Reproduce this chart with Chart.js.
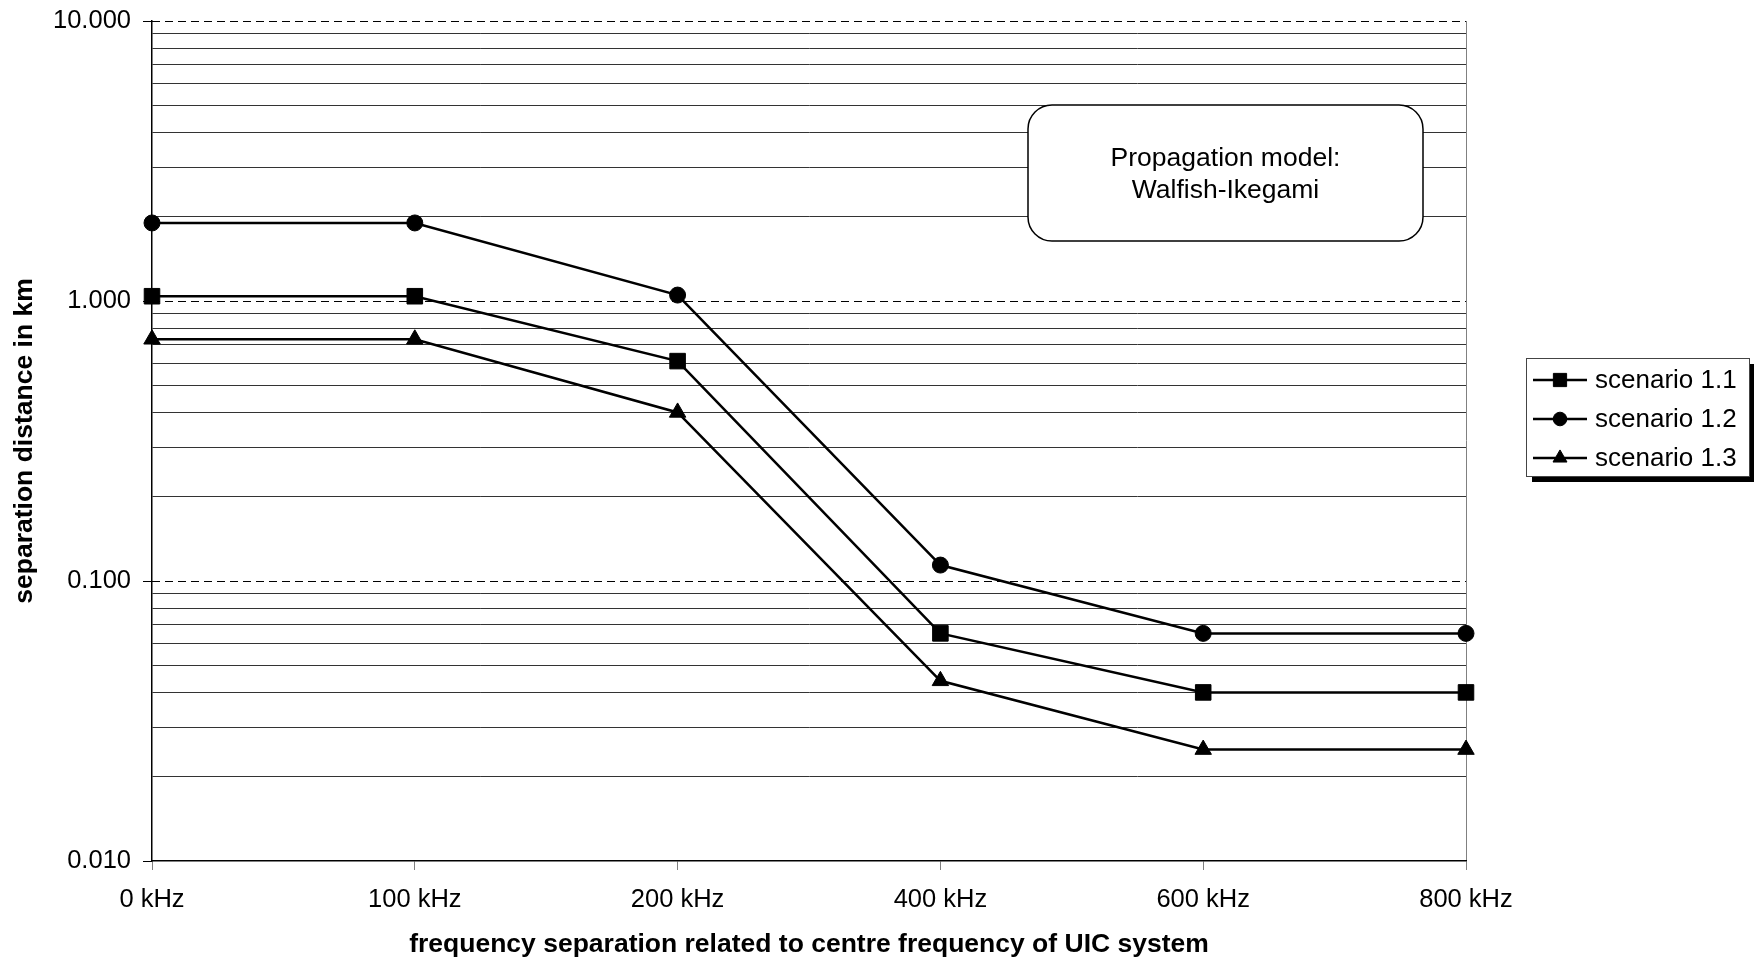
<!DOCTYPE html>
<html>
<head>
<meta charset="utf-8">
<title>Separation distance</title>
<script src="https://cdn.jsdelivr.net/npm/chart.js@4.4.1/dist/chart.umd.min.js"></script>
<style>
  body { margin: 0; background: #fff; }
  canvas { display: block; }
</style>
</head>
<body>
<canvas id="distanceChart" width="1754" height="961"></canvas>
<script>
const frequencies = ["0 kHz", "100 kHz", "200 kHz", "400 kHz", "600 kHz", "800 kHz"];
const scenario11 = [1.04, 1.04, 0.61, 0.065, 0.04, 0.04];
const scenario12 = [1.9, 1.9, 1.05, 0.114, 0.065, 0.065];
const scenario13 = [0.73, 0.73, 0.40, 0.044, 0.025, 0.025];
const seriesNames = ["scenario 1.1", "scenario 1.2", "scenario 1.3"];
const noteLines = ["Propagation model:", "Walfish-Ikegami"];

const FONT = "'Liberation Sans', Arial, sans-serif";

function isDecade(v) {
  const l = Math.log10(v);
  return Math.abs(l - Math.round(l)) < 1e-9;
}

// dashed lines at 0.1, 1 and 10 (v4 can't dash single grid lines)
const decadeLines = {
  id: "decadeLines",
  beforeDatasetsDraw(chart) {
    const ctx = chart.ctx;
    const y = chart.scales.y;
    const area = chart.chartArea;
    ctx.save();
    ctx.strokeStyle = "#000";
    ctx.lineWidth = 1;
    ctx.setLineDash([8, 5]);
    y.ticks.forEach(t => {
      if (!isDecade(t.value) || t.value <= y.min) return;
      const py = Math.round(y.getPixelForValue(t.value)) + 0.5;
      ctx.beginPath();
      ctx.moveTo(area.left, py);
      ctx.lineTo(area.right, py);
      ctx.stroke();
    });
    ctx.restore();
  }
};

// rounded note box
const noteBox = {
  id: "noteBox",
  afterDraw(chart) {
    const ctx = chart.ctx;
    const x = 1028, y = 105, w = 395, h = 136, r = 24;
    ctx.save();
    ctx.beginPath();
    ctx.moveTo(x + r, y);
    ctx.arcTo(x + w, y, x + w, y + h, r);
    ctx.arcTo(x + w, y + h, x, y + h, r);
    ctx.arcTo(x, y + h, x, y, r);
    ctx.arcTo(x, y, x + w, y, r);
    ctx.closePath();
    ctx.fillStyle = "#fff";
    ctx.fill();
    ctx.strokeStyle = "#000";
    ctx.lineWidth = 1.5;
    ctx.stroke();
    ctx.fillStyle = "#000";
    ctx.font = "26.5px " + FONT;
    ctx.textAlign = "center";
    ctx.textBaseline = "alphabetic";
    noteLines.forEach((line, i) => ctx.fillText(line, x + w / 2, y + 61 + i * 32));
    ctx.restore();
  }
};

// legend with drop shadow, like the original
const boxLegend = {
  id: "boxLegend",
  afterDraw(chart) {
    const ctx = chart.ctx;
    const x = 1526, y = 358, w = 223, h = 118;
    ctx.save();
    ctx.fillStyle = "#000";
    ctx.fillRect(x + 6, y + 6, w, h);
    ctx.fillStyle = "#fff";
    ctx.fillRect(x, y, w, h);
    ctx.strokeStyle = "#444";
    ctx.lineWidth = 1;
    ctx.strokeRect(x + 0.5, y + 0.5, w, h);
    chart.data.datasets.forEach((ds, i) => {
      const cy = y + 22 + i * 39;
      ctx.strokeStyle = "#000";
      ctx.fillStyle = "#000";
      ctx.lineWidth = 2.5;
      ctx.beginPath();
      ctx.moveTo(x + 7, cy);
      ctx.lineTo(x + 61, cy);
      ctx.stroke();
      ctx.lineWidth = 1;
      Chart.helpers.drawPoint(ctx, {
        pointStyle: ds.pointStyle, radius: ds.pointRadius * 0.85, rotation: 0, borderWidth: 1
      }, x + 34, cy);
      ctx.font = "26px " + FONT;
      ctx.textAlign = "left";
      ctx.textBaseline = "middle";
      ctx.fillText(ds.label, x + 69, cy + 1);
    });
    ctx.restore();
  }
};

function makeDataset(label, data, style, radius) {
  return {
    label,
    data,
    borderColor: "#000",
    backgroundColor: "#000",
    borderWidth: 2.5,
    pointStyle: style,
    pointRadius: radius,
    pointBackgroundColor: "#000",
    pointBorderColor: "#000",
    pointBorderWidth: 1,
    tension: 0
  };
}

new Chart(document.getElementById("distanceChart"), {
  type: "line",
  data: {
    labels: frequencies,
    datasets: [
      makeDataset(seriesNames[0], scenario11, "rect", 11),
      makeDataset(seriesNames[1], scenario12, "circle", 8),
      makeDataset(seriesNames[2], scenario13, "triangle", 9.5)
    ]
  },
  options: {
    responsive: false,
    animation: false,
    layout: { padding: { top: 21, right: 288, left: 0, bottom: 0 } },
    plugins: {
      legend: { display: false },
      tooltip: { enabled: false }
    },
    scales: {
      x: {
        grid: {
          color: c => c.index === frequencies.length - 1 ? "#808080" : "rgba(0,0,0,0)",
          tickColor: "#808080",
          tickLength: 9,
          lineWidth: 1
        },
        border: { color: "#000", width: 1.5 },
        ticks: {
          color: "#000",
          font: { family: FONT, size: 25.5 },
          padding: 15,
          maxRotation: 0,
          autoSkip: false
        },
        title: {
          display: true,
          text: "frequency separation related to centre frequency of UIC system",
          color: "#000",
          font: { family: FONT, size: 26.5, weight: "bold" },
          padding: { top: 0, bottom: 0 }
        },
        afterFit: s => {
          s.height = 100;
          s.paddingLeft = 0;
          s.paddingRight = 0;
        }
      },
      y: {
        type: "logarithmic",
        min: 0.01,
        max: 10,
        afterBuildTicks: s => {
          const t = [];
          for (let e = -2; e < 1; e++) {
            for (let m = 1; m < 10; m++) t.push({ value: m * Math.pow(10, e) });
          }
          t.push({ value: 10 });
          s.ticks = t;
        },
        grid: {
          color: c => (c.tick && isDecade(c.tick.value)) ? "rgba(0,0,0,0)" : "#333",
          tickColor: c => (c.tick && isDecade(c.tick.value)) ? "#000" : "rgba(0,0,0,0)",
          tickLength: 9,
          lineWidth: 1
        },
        border: { color: "#000", width: 1.5 },
        ticks: {
          color: "#000",
          font: { family: FONT, size: 25.5 },
          padding: 12,
          autoSkip: false,
          callback: v => isDecade(v) ? v.toFixed(3) : ""
        },
        title: {
          display: true,
          text: "separation distance in km",
          color: "#000",
          font: { family: FONT, size: 26.5, weight: "bold" },
          padding: { top: 9, bottom: 0 }
        },
        afterFit: s => {
          s.width = 152;
          s.paddingTop = 0;
          s.paddingBottom = 0;
        }
      }
    }
  },
  plugins: [decadeLines, noteBox, boxLegend]
});
</script>
</body>
</html>
